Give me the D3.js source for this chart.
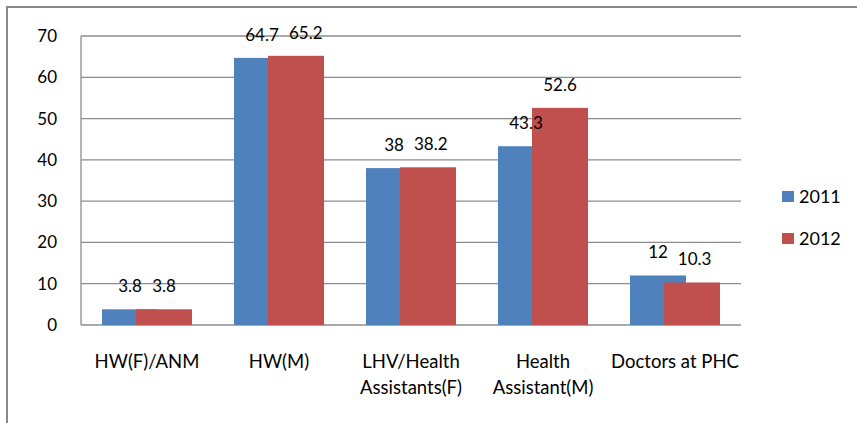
<!DOCTYPE html>
<html><head><meta charset="utf-8">
<script src="https://cdn.jsdelivr.net/npm/d3@7"></script>
<style>body{margin:0;background:#fff}svg{display:block}text{font-family:Lato,"Open Sans",sans-serif;fill:#000}</style>
</head><body><svg id="c" width="857" height="423"></svg>
<script>
const categories = [["HW(F)/ANM"],["HW(M)"],["LHV/Health","Assistants(F)"],["Health","Assistant(M)"],["Doctors at PHC"]];
const series2011 = [3.8, 64.7, 38, 43.3, 12];
const series2012 = [3.8, 65.2, 38.2, 52.6, 10.3];
const seriesNames = ["2011","2012"];
const colors = ["#4F81BD","#C0504D"];
const yTicks = [0,10,20,30,40,50,60,70];

(function(){
const svg = d3.select("#c");
const fs = 18.5, fn = 17;
svg.append("rect").attr("x",7).attr("y",7).attr("width",900).attr("height",500)
  .attr("fill","none").attr("stroke","#888").attr("stroke-width",2);

const pl=81,pr=741,pt=36,pb=325;
const x = d3.scaleBand().domain(d3.range(categories.length)).range([pl,pr]);
const y = d3.scaleLinear().domain([0,70]).range([pb,pt]);

svg.append("g").selectAll("line").data(yTicks).join("line")
  .attr("x1",pl).attr("x2",pr).attr("y1",d=>y(d)).attr("y2",d=>y(d))
  .attr("stroke","#8c8c8c").attr("stroke-width",1.3);
svg.append("line").attr("x1",pl).attr("x2",pl).attr("y1",pt).attr("y2",pb)
  .attr("stroke","#8c8c8c").attr("stroke-width",1.3);

svg.append("g").selectAll("text").data(yTicks).join("text")
  .attr("x",57).attr("y",d=>y(d)).attr("dy","0.35em").attr("text-anchor","end")
  .attr("font-size",fn).text(d=>d);

const k = x.bandwidth()/132;
const bw = 56*k, off = 34*k;
const bx = (i,si)=>x(i)+x.bandwidth()/2-45*k+si*off;
const allSeries=[series2011,series2012];
allSeries.forEach((s,si)=>{
  svg.append("g").selectAll("rect").data(s).join("rect")
    .attr("x",(d,i)=>bx(i,si))
    .attr("width",bw).attr("y",d=>y(d)).attr("height",d=>y(0)-y(d))
    .attr("fill",colors[si]);
});
const labelSel = allSeries.map((s,si)=>
  svg.append("g").selectAll("text").data(s).join("text")
    .attr("x",(d,i)=>bx(i,si)+bw/2)
    .attr("y",d=>y(d)-17).attr("text-anchor","middle").attr("font-size",fn)
    .text(d=>d).nodes());
// avoid overlapping labels within a group: nudge the second label right
categories.forEach((c,i)=>{
  const a = labelSel[0][i], b = labelSel[1][i];
  const ba = a.getBBox(), bb = b.getBBox();
  const vOverlap = !(bb.y > ba.y+ba.height || ba.y > bb.y+bb.height);
  const need = ba.x+ba.width+10 - bb.x;
  if (vOverlap && need > 0) b.setAttribute("x", +b.getAttribute("x")+need);
});

const cg = svg.append("g");
categories.forEach((lines,i)=>{
  const cx = x(i)+x.bandwidth()/2;
  const t = cg.append("text").attr("text-anchor","middle").attr("font-size",fs)
    .attr("x",cx).attr("y",368);
  lines.forEach((l,j)=>t.append("tspan").attr("x",cx).attr("dy",j?26:0).text(l));
});

seriesNames.forEach((n,i)=>{
  const g = svg.append("g").attr("transform",`translate(782,${191+i*42})`);
  g.append("rect").attr("width",12).attr("height",11).attr("fill",colors[i]);
  g.append("text").attr("x",17).attr("y",6).attr("dy","0.35em").attr("font-size",fn+1).text(n);
});
})();
</script></body></html>
